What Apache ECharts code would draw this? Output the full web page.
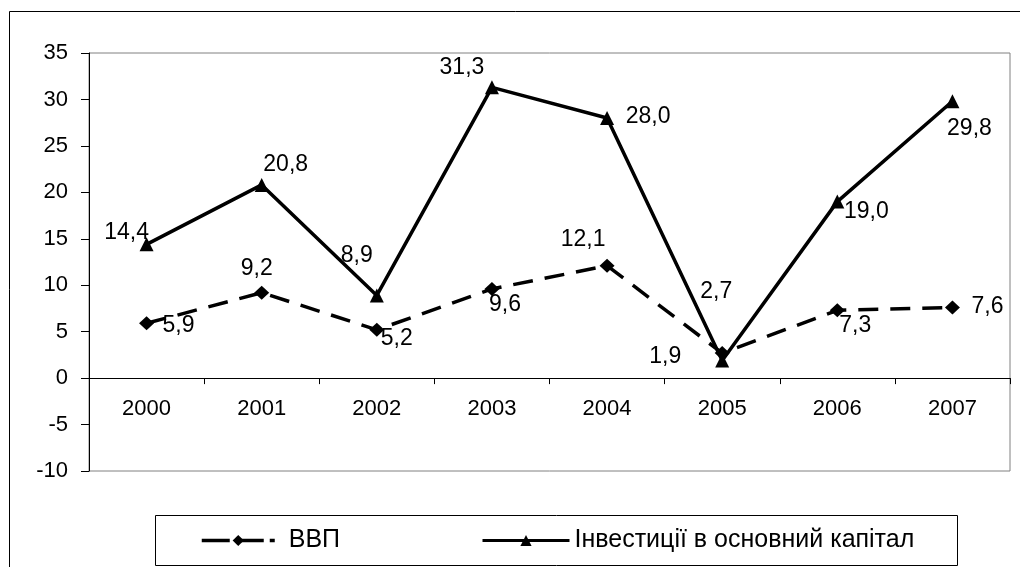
<!DOCTYPE html>
<html>
<head>
<meta charset="utf-8">
<script src="https://cdn.jsdelivr.net/npm/echarts@6/dist/echarts.min.js"></script>
<style>
  html, body { margin: 0; padding: 0; background: #fff; }
  #chart { width: 1020px; height: 567px; }
</style>
</head>
<body>
<div id="chart"></div>
<script>
// дані з рисунка
var years = ['2000', '2001', '2002', '2003', '2004', '2005', '2006', '2007'];
var gdp = [5.9, 9.2, 5.2, 9.6, 12.1, 2.7, 7.3, 7.6];
var invest = [14.4, 20.8, 8.9, 31.3, 28.0, 1.9, 19.0, 29.8];
var gdpName = 'ВВП';
var investName = 'Інвестиції в основний капітал';

// зсув підписів відносно точки (як в оригіналі)
var gdpLabelShift = [[32, 2], [-5, -24], [20, 9], [13, 16], [-24, -26], [-6, -61], [18, 15], [35, -1]];
var investLabelShift = [[-20, -12], [24, -20], [-20, -40], [-30, -20], [41, -1], [-57, -4], [29, 10], [17, 27]];

var font = 'Liberation Sans, Arial, sans-serif';

function withLabels(values, shifts) {
    return values.map(function (v, i) {
        return { value: v, label: { offset: shifts[i] } };
    });
}

var chart = echarts.init(document.getElementById('chart'));
var option = {
    animation: false,
    backgroundColor: '#fff',
    textStyle: { fontFamily: font, color: '#000' },
    grid: {
        left: 89, top: 53, right: 10, bottom: 96,
        show: true, borderColor: '#808080', borderWidth: 1
    },
    xAxis: {
        type: 'category',
        data: years,
        axisLine: { onZero: true, lineStyle: { color: '#000', width: 1 } },
        axisTick: { show: true, length: 6, lineStyle: { color: '#000' } },
        // підписи років ставимо під лінією нуля
        axisLabel: { fontSize: 22, color: '#000', margin: -73, fontFamily: font },
        splitLine: { show: false }
    },
    yAxis: {
        type: 'value',
        min: -10, max: 35, interval: 5,
        axisLine: { show: true, lineStyle: { color: '#000', width: 1 } },
        axisTick: { show: true, length: 8, lineStyle: { color: '#000' } },
        axisLabel: { fontSize: 22, color: '#000', margin: 21, fontFamily: font },
        splitLine: { show: false }
    },
    legend: [
        {
            data: [gdpName], left: 200, top: 528, padding: 0,
            itemWidth: 73, itemHeight: 14,
            lineStyle: { type: [28, 6], width: 3.5 },
            textStyle: { fontSize: 25, color: '#000', fontFamily: font, padding: [0, 0, 0, 9] }
        },
        {
            data: [investName], left: 481, top: 528, padding: 0,
            itemWidth: 87, itemHeight: 14,
            lineStyle: { width: 3 },
            textStyle: { fontSize: 25, color: '#000', fontFamily: font }
        }
    ],
    graphic: [
        { type: 'rect', silent: true, shape: { x: 9.5, y: 11.5, width: 1200, height: 700 },
          style: { fill: null, stroke: '#000', lineWidth: 1 } },
        { type: 'rect', silent: true, shape: { x: 155.5, y: 515.5, width: 802, height: 50 },
          style: { fill: null, stroke: '#000', lineWidth: 1 } }
    ],
    series: [
        {
            name: gdpName,
            type: 'line',
            data: withLabels(gdp, gdpLabelShift),
            symbol: 'diamond',
            symbolSize: [15, 14],
            itemStyle: { color: '#000' },
            lineStyle: { color: '#000', width: 3.5, type: [20, 12] },
            label: {
                show: true, position: 'inside', fontSize: 23, color: '#000', fontFamily: font,
                formatter: function (p) { return p.value.toFixed(1).replace('.', ','); }
            },
            emphasis: { disabled: true }
        },
        {
            name: investName,
            type: 'line',
            data: withLabels(invest, investLabelShift),
            symbol: 'triangle',
            symbolSize: 14,
            itemStyle: { color: '#000' },
            lineStyle: { color: '#000', width: 3.5 },
            label: {
                show: true, position: 'inside', fontSize: 23, color: '#000', fontFamily: font,
                formatter: function (p) { return p.value.toFixed(1).replace('.', ','); }
            },
            emphasis: { disabled: true }
        }
    ]
};
chart.setOption(option);
</script>
</body>
</html>
